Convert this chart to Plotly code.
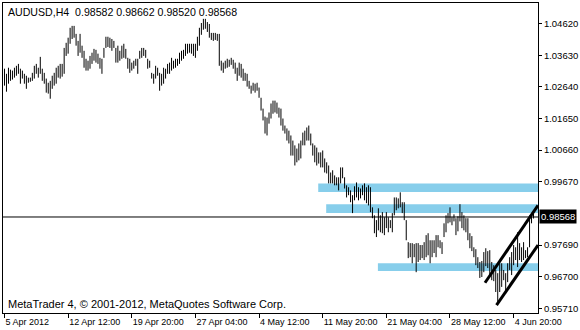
import plotly.graph_objects as go

symbol = "AUDUSD,H4"
last_ohlc = [0.98582, 0.98662, 0.98520, 0.98568]
current_price = 0.98568

highs = [
    1.0321, 1.0305, 1.0324, 1.0318, 1.0315, 1.0324, 1.0330, 1.0336, 1.0321, 1.0315,
    1.0305, 1.0299, 1.0293, 1.0293, 1.0308, 1.0330, 1.0336, 1.0324, 1.0358, 1.0321,
    1.0308, 1.0290, 1.0277, 1.0283, 1.0299, 1.0308, 1.0324, 1.0330, 1.0336, 1.0336,
    1.0386, 1.0402, 1.0418, 1.0449, 1.0455, 1.0455, 1.0430, 1.0408, 1.0430, 1.0393,
    1.0377, 1.0352, 1.0346, 1.0361, 1.0371, 1.0383, 1.0380, 1.0368, 1.0355, 1.0352,
    1.0386, 1.0421, 1.0421, 1.0418, 1.0414, 1.0408, 1.0386, 1.0393, 1.0377, 1.0393,
    1.0399, 1.0383, 1.0355, 1.0352, 1.0340, 1.0346, 1.0352, 1.0352, 1.0377, 1.0386,
    1.0386, 1.0380, 1.0352, 1.0346, 1.0308, 1.0305, 1.0330, 1.0324, 1.0308, 1.0305,
    1.0324, 1.0321, 1.0336, 1.0340, 1.0355, 1.0346, 1.0352, 1.0352, 1.0371, 1.0377,
    1.0380, 1.0399, 1.0399, 1.0399, 1.0399, 1.0399, 1.0399, 1.0421, 1.0449, 1.0464,
    1.0477, 1.0477, 1.0467, 1.0461, 1.0433, 1.0433, 1.0433, 1.0430, 1.0430, 1.0346,
    1.0340, 1.0346, 1.0352, 1.0349, 1.0355, 1.0349, 1.0340, 1.0324, 1.0340, 1.0336,
    1.0321, 1.0308, 1.0305, 1.0283, 1.0268, 1.0277, 1.0274, 1.0277, 1.0262, 1.0230,
    1.0196, 1.0171, 1.0168, 1.0184, 1.0212, 1.0221, 1.0221, 1.0215, 1.0199, 1.0196,
    1.0165, 1.0143, 1.0134, 1.0127, 1.0112, 1.0096, 1.0081, 1.0071, 1.0087, 1.0096,
    1.0121, 1.0127, 1.0137, 1.0143, 1.0118, 1.0087, 1.0081, 1.0074, 1.0059, 1.0059,
    1.0065, 1.0040, 1.0028, 1.0018, 0.9996, 1.0003, 0.9987, 0.9981, 0.9981, 1.0012,
    1.0012, 0.9981, 0.9956, 0.9950, 0.9940, 0.9925, 0.9953, 0.9965, 0.9950, 0.9946,
    0.9956, 0.9962, 0.9950, 0.9956, 0.9950, 0.9887, 0.9862, 0.9847, 0.9884, 0.9862,
    0.9872, 0.9856, 0.9872, 0.9856, 0.9847, 0.9869, 0.9918, 0.9918, 0.9915, 0.9934,
    0.9903, 0.9903, 0.9847, 0.9778, 0.9775, 0.9775, 0.9772, 0.9775, 0.9775, 0.9769,
    0.9769, 0.9778, 0.9800, 0.9806, 0.9784, 0.9784, 0.9784, 0.9800, 0.9800, 0.9784,
    0.9778, 0.9837, 0.9862, 0.9869, 0.9887, 0.9856, 0.9865, 0.9853, 0.9859, 0.9897,
    0.9872, 0.9862, 0.9853, 0.9853, 0.9806, 0.9797, 0.9762, 0.9756, 0.9731, 0.9716,
    0.9719, 0.9747, 0.9759, 0.9750, 0.9753, 0.9716, 0.9706, 0.9691, 0.9681, 0.9712,
    0.9712, 0.9691, 0.9681, 0.9712, 0.9731, 0.9747, 0.9769, 0.9762, 0.9809, 0.9775,
    0.9762, 0.9778, 0.9753, 0.9762, 0.9862, 0.9869, 0.98662,
]

lows = [
    1.0268, 1.0249, 1.0274, 1.0283, 1.0287, 1.0293, 1.0299, 1.0305, 1.0274, 1.0290,
    1.0274, 1.0258, 1.0277, 1.0280, 1.0283, 1.0290, 1.0305, 1.0293, 1.0305, 1.0283,
    1.0274, 1.0246, 1.0243, 1.0227, 1.0258, 1.0268, 1.0274, 1.0293, 1.0290, 1.0296,
    1.0305, 1.0361, 1.0368, 1.0399, 1.0414, 1.0418, 1.0393, 1.0361, 1.0371, 1.0355,
    1.0324, 1.0315, 1.0315, 1.0321, 1.0336, 1.0346, 1.0340, 1.0336, 1.0321, 1.0305,
    1.0355, 1.0386, 1.0389, 1.0386, 1.0377, 1.0386, 1.0340, 1.0340, 1.0346, 1.0352,
    1.0355, 1.0352, 1.0321, 1.0308, 1.0315, 1.0321, 1.0330, 1.0305, 1.0352, 1.0355,
    1.0361, 1.0355, 1.0321, 1.0324, 1.0290, 1.0274, 1.0290, 1.0299, 1.0252, 1.0268,
    1.0274, 1.0290, 1.0305, 1.0305, 1.0315, 1.0321, 1.0324, 1.0330, 1.0336, 1.0346,
    1.0352, 1.0361, 1.0368, 1.0371, 1.0368, 1.0361, 1.0355, 1.0377, 1.0393, 1.0427,
    1.0443, 1.0446, 1.0436, 1.0418, 1.0411, 1.0408, 1.0411, 1.0408, 1.0330, 1.0315,
    1.0308, 1.0321, 1.0324, 1.0327, 1.0333, 1.0321, 1.0305, 1.0283, 1.0299, 1.0293,
    1.0283, 1.0283, 1.0265, 1.0258, 1.0243, 1.0252, 1.0246, 1.0252, 1.0230, 1.0190,
    1.0159, 1.0118, 1.0112, 1.0149, 1.0165, 1.0180, 1.0184, 1.0180, 1.0168, 1.0143,
    1.0127, 1.0118, 1.0096, 1.0087, 1.0049, 1.0049, 1.0018, 1.0028, 1.0034, 1.0040,
    1.0081, 1.0081, 1.0096, 1.0096, 1.0081, 1.0049, 1.0028, 1.0018, 1.0024, 1.0012,
    1.0012, 0.9996, 0.9993, 0.9962, 0.9962, 0.9962, 0.9956, 0.9956, 0.9940, 0.9962,
    0.9978, 0.9946, 0.9918, 0.9925, 0.9903, 0.9869, 0.9909, 0.9918, 0.9909, 0.9915,
    0.9925, 0.9909, 0.9900, 0.9893, 0.9872, 0.9853, 0.9806, 0.9794, 0.9815, 0.9809,
    0.9806, 0.9800, 0.9822, 0.9809, 0.9822, 0.9809, 0.9862, 0.9878, 0.9884, 0.9887,
    0.9869, 0.9847, 0.9784, 0.9728, 0.9731, 0.9712, 0.9731, 0.9684, 0.9716, 0.9722,
    0.9728, 0.9722, 0.9731, 0.9737, 0.9712, 0.9731, 0.9744, 0.9731, 0.9762, 0.9759,
    0.9741, 0.9794, 0.9809, 0.9837, 0.9840, 0.9831, 0.9843, 0.9800, 0.9812, 0.9843,
    0.9822, 0.9815, 0.9809, 0.9784, 0.9759, 0.9750, 0.9731, 0.9706, 0.9697, 0.9666,
    0.9669, 0.9684, 0.9703, 0.9697, 0.9672, 0.9659, 0.9656, 0.9622, 0.9591, 0.9622,
    0.9638, 0.9659, 0.9622, 0.9653, 0.9691, 0.9675, 0.9706, 0.9722, 0.9700, 0.9722,
    0.9716, 0.9722, 0.9728, 0.9731, 0.9762, 0.9837, 0.98520,
]

date_labels = ["5 Apr 2012", "12 Apr 12:00", "19 Apr 20:00", "27 Apr 04:00", "4 May 12:00",
               "11 May 20:00", "21 May 04:00", "28 May 12:00", "4 Jun 20:00"]
label_bars = [0, 32, 64, 96, 128, 160, 192, 224, 256]
price_ticks = [1.04620, 1.03630, 1.02640, 1.01650, 1.00660, 0.99670, 0.97690, 0.96700, 0.95710]

# support/resistance zones: start bar, upper price, lower price
zone_start = [157.75, 161.75, 187.75]
zone_top = [0.9962, 0.9897, 0.9712]
zone_bottom = [0.9935, 0.9869, 0.9688]

# rising channel lines (bar, price)
chan_upper_x = [241.6, 268.25]
chan_upper_y = [0.9651, 0.9893]
chan_lower_x = [247.4, 268.25]
chan_lower_y = [0.9581, 0.9769]

x_range = [-0.75, 268.25]
y_range = [0.95563, 1.05266]

FONT = "Liberation Sans, Arial, sans-serif"

bx, by = [], []
for i, (h, l) in enumerate(zip(highs, lows)):
    bx += [i, i, None]
    by += [l, h, None]

fig = go.Figure()

shapes = []
for s, t, b in zip(zone_start, zone_top, zone_bottom):
    shapes.append(dict(type="rect", xref="x", yref="y", x0=s, x1=x_range[1], y0=b, y1=t,
                       fillcolor="#87CEEB", line=dict(width=0), layer="below"))
shapes.append(dict(type="line", xref="paper", yref="y", x0=0, x1=1, y0=current_price, y1=current_price,
                   line=dict(color="black", width=1), layer="below"))

fig.add_trace(go.Scatter(x=bx, y=by, mode="lines", line=dict(color="black", width=1),
                         hoverinfo="skip", showlegend=False))
fig.add_trace(go.Scatter(x=chan_upper_x, y=chan_upper_y, mode="lines",
                         line=dict(color="black", width=3), showlegend=False, cliponaxis=True))
fig.add_trace(go.Scatter(x=chan_lower_x, y=chan_lower_y, mode="lines",
                         line=dict(color="black", width=3), showlegend=False, cliponaxis=True))

title_text = symbol + "  " + " ".join(f"{v:.5f}" for v in last_ohlc)

annotations = [
    dict(text=title_text, xref="paper", yref="paper", x=0, y=1, xanchor="left", yanchor="top",
         xshift=3, yshift=-1, showarrow=False, font=dict(family=FONT, size=10.6, color="#000000")),
    dict(text="MetaTrader 4, © 2001-2012, MetaQuotes Software Corp.", xref="paper", yref="paper",
         x=0, y=0, xanchor="left", yanchor="bottom", xshift=3, yshift=1, showarrow=False,
         font=dict(family=FONT, size=11, color="#000000")),
    dict(text=f"{current_price:.5f}", xref="paper", yref="y", x=1, y=current_price, xanchor="left",
         yanchor="middle", xshift=1, showarrow=False, bgcolor="black", borderpad=1,
         font=dict(family=FONT, size=9.5, color="white")),
]

fig.update_layout(
    width=580, height=330,
    margin=dict(l=2, r=40, t=2, b=17),
    paper_bgcolor="white", plot_bgcolor="white",
    shapes=shapes, annotations=annotations,
    showlegend=False,
    xaxis=dict(range=x_range, showgrid=False, zeroline=False, showline=True, mirror=True,
               linecolor="black", linewidth=1, ticks="outside", ticklen=4, tickcolor="black",
               tickvals=label_bars, ticktext=date_labels, ticklabelposition="outside right",
               tickfont=dict(family=FONT, size=9, color="black"), fixedrange=True),
    yaxis=dict(range=y_range, side="right", showgrid=False, zeroline=False, showline=True,
               mirror=True, linecolor="black", linewidth=1, ticks="outside", ticklen=3,
               tickcolor="black", tickvals=price_ticks, ticktext=[f"{v:.5f}" for v in price_ticks],
               tickfont=dict(family=FONT, size=9.5, color="black"), fixedrange=True),
)

fig.write_html("out.html")
